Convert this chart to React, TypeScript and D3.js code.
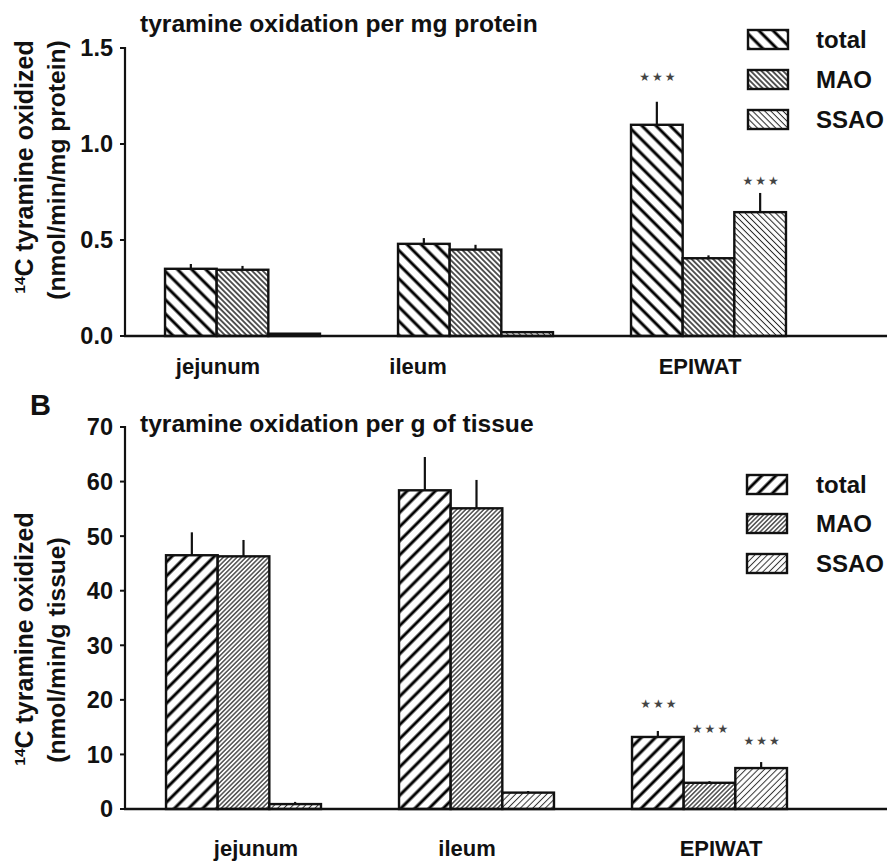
import React from 'react';
import * as d3 from 'd3';

// ---------- data ----------
const categories = ['jejunum', 'ileum', 'EPIWAT'];
const seriesNames = ['total', 'MAO', 'SSAO'];

// Panel A: per mg protein
const proteinTotal = [0.35, 0.48, 1.10];
const proteinTotalErr = [0.025, 0.03, 0.12];
const proteinMAO = [0.345, 0.45, 0.405];
const proteinMAOErr = [0.02, 0.025, 0.015];
const proteinSSAO = [0.012, 0.02, 0.645];
const proteinSSAOErr = [0, 0, 0.10];
const proteinTicks = [0, 0.5, 1.0, 1.5];
// significance markers: category index, series index, level (data units)
const proteinStars = [
  { cat: 2, s: 0, level: 1.354 },
  { cat: 2, s: 2, level: 0.81 },
];

// Panel B: per g of tissue
const tissueTotal = [46.5, 58.4, 13.2];
const tissueTotalErr = [4.2, 6.1, 1.1];
const tissueMAO = [46.3, 55.1, 4.8];
const tissueMAOErr = [3.0, 5.2, 0.3];
const tissueSSAO = [0.9, 3.0, 7.5];
const tissueSSAOErr = [0.4, 0.3, 1.1];
const tissueTicks = [0, 10, 20, 30, 40, 50, 60, 70];
const tissueStars = [
  { cat: 2, s: 0, level: 19.4 },
  { cat: 2, s: 1, level: 14.8 },
  { cat: 2, s: 2, level: 12.5 },
];

const FONT = "'Liberation Sans', Arial, Helvetica, sans-serif";

type PanelProps = {
  values: number[][];
  errors: number[][];
  stars: { cat: number; s: number; level: number }[];
  ticks: number[];
  fmt: (v: number) => string;
  domain: [number, number];
  yRange: [number, number];
  xRange: [number, number];
  patterns: string[];
  title: string;
  titleY: number;
  yLabel2: string;
  yLabelCenters: [number, number];
  legendX: number;
  legendYs: number[];
  catLabelY: number;
  catLabelX: number[];
};

function Panel(p: PanelProps) {
  const y = d3.scaleLinear().domain(p.domain).range(p.yRange);
  const x0 = d3
    .scaleBand<string>()
    .domain(categories)
    .range(p.xRange)
    .paddingInner(0.335)
    .paddingOuter(0.1675);
  const x1 = d3.scaleBand<string>().domain(seriesNames).range([0, x0.bandwidth()]).padding(0);
  const axisX = 125;
  const base = y(0);
  return (
    <g>
      <text x={140} y={p.titleY} fontSize={24.6} fontWeight="bold" fill="#111">
        {p.title}
      </text>
      {/* bars */}
      {categories.map((c, ci) => (
        <g key={c}>
          {seriesNames.map((s, si) => {
            const v = p.values[si][ci];
            const e = p.errors[si][ci];
            const bx = (x0(c) as number) + (x1(s) as number);
            const bw = x1.bandwidth();
            const cx = bx + bw / 2;
            return (
              <g key={s}>
                {e > 0 && (
                  <line x1={cx} x2={cx} y1={y(v)} y2={y(v + e)} stroke="#111" strokeWidth={2.2} />
                )}
                <rect
                  x={bx}
                  y={y(v)}
                  width={bw}
                  height={base - y(v)}
                  fill={`url(#${p.patterns[si]})`}
                  stroke="#111"
                  strokeWidth={2.4}
                />
              </g>
            );
          })}
        </g>
      ))}
      {/* stars */}
      {p.stars.map((st, i) => {
        const c = categories[st.cat];
        const s = seriesNames[st.s];
        const cx = (x0(c) as number) + (x1(s) as number) + x1.bandwidth() / 2;
        return (
          <text
            key={i}
            x={cx + 1.5}
            y={y(st.level) + 4.5}
            textAnchor="middle"
            fontSize={12}
            letterSpacing={2}
            fill="#444"
            fontFamily="'DejaVu Sans', sans-serif"
          >
            ★★★
          </text>
        );
      })}
      {/* axes */}
      <line x1={axisX} x2={axisX} y1={base + 1} y2={y(p.domain[1]) - 1} stroke="#111" strokeWidth={2.2} />
      <line x1={axisX - 1} x2={887} y1={base} y2={base} stroke="#111" strokeWidth={2.4} />
      {p.ticks.map((t) => (
        <g key={t}>
          <line x1={axisX - 5} x2={axisX} y1={y(t)} y2={y(t)} stroke="#111" strokeWidth={2} />
          <text
            x={113}
            y={y(t)}
            dy="0.36em"
            textAnchor="end"
            fontSize={23.5}
            fontWeight="bold"
            fill="#111"
          >
            {p.fmt(t)}
          </text>
        </g>
      ))}
      {/* category labels */}
      {categories.map((c, i) => (
        <text
          key={c}
          x={p.catLabelX[i]}
          y={p.catLabelY}
          textAnchor="middle"
          fontSize={22}
          fontWeight="bold"
          fill="#111"
        >
          {c}
        </text>
      ))}
      {/* y label */}
      <text
        transform={`translate(33,${p.yLabelCenters[0]}) rotate(-90)`}
        textAnchor="middle"
        fontSize={25}
        fontWeight="bold"
        fill="#111"
      >
        <tspan fontSize={15.5} dy={-8}>
          14
        </tspan>
        <tspan dy={8}>C tyramine oxidized</tspan>
      </text>
      <text
        transform={`translate(65,${p.yLabelCenters[1]}) rotate(-90)`}
        textAnchor="middle"
        fontSize={24.6}
        fontWeight="bold"
        fill="#111"
      >
        {p.yLabel2}
      </text>
      {/* legend */}
      {seriesNames.map((s, i) => (
        <g key={s}>
          <rect
            x={p.legendX}
            y={p.legendYs[i]}
            width={40}
            height={19}
            fill={`url(#${p.patterns[i]})`}
            stroke="#111"
            strokeWidth={2.4}
          />
          <text
            x={816}
            y={p.legendYs[i] + 9.5}
            dy="0.36em"
            fontSize={24}
            fontWeight="bold"
            fill="#111"
          >
            {s}
          </text>
        </g>
      ))}
    </g>
  );
}

function Hatch({ id, size, sw, angle, color }: { id: string; size: number; sw: number; angle: number; color: string }) {
  return (
    <pattern id={id} patternUnits="userSpaceOnUse" width={size} height={size} patternTransform={`rotate(${angle})`}>
      <rect width={size} height={size} fill="white" />
      <line x1={size / 2} x2={size / 2} y1={-1} y2={size + 1} stroke={color} strokeWidth={sw} />
    </pattern>
  );
}

export default function App() {
  return (
    <svg
      width={887}
      height={861}
      style={{ position: 'absolute', left: 0, top: 0, background: 'white' }}
      fontFamily={FONT}
    >
      <defs>
        <Hatch id="aTotal" size={10} sw={3} angle={-45} color="#000" />
        <Hatch id="aMAO" size={3.8} sw={1.4} angle={-45} color="#111" />
        <Hatch id="aSSAO" size={4.3} sw={1.0} angle={-45} color="#222" />
        <Hatch id="bTotal" size={10} sw={3} angle={45} color="#000" />
        <Hatch id="bMAO" size={3.2} sw={1.2} angle={45} color="#222" />
        <Hatch id="bSSAO" size={4.4} sw={1.0} angle={45} color="#333" />
      </defs>
      <rect width={887} height={861} fill="white" />
      <Panel
        values={[proteinTotal, proteinMAO, proteinSSAO]}
        errors={[proteinTotalErr, proteinMAOErr, proteinSSAOErr]}
        stars={proteinStars}
        ticks={proteinTicks}
        fmt={d3.format('.1f')}
        domain={[0, 1.5]}
        yRange={[336, 48]}
        xRange={[126, 825]}
        patterns={['aTotal', 'aMAO', 'aSSAO']}
        title="tyramine oxidation per mg protein"
        titleY={32}
        yLabel2="(nmol/min/mg protein)"
        yLabelCenters={[167, 170]}
        legendX={748}
        legendYs={[30, 70, 110]}
        catLabelY={374}
        catLabelX={[218, 418, 700]}
      />
      <text x={30} y={415} fontSize={29} fontWeight="bold" fill="#111">
        B
      </text>
      <Panel
        values={[tissueTotal, tissueMAO, tissueSSAO]}
        errors={[tissueTotalErr, tissueMAOErr, tissueSSAOErr]}
        stars={tissueStars}
        ticks={tissueTicks}
        fmt={d3.format('d')}
        domain={[0, 70]}
        yRange={[809, 427]}
        xRange={[127, 826]}
        patterns={['bTotal', 'bMAO', 'bSSAO']}
        title="tyramine oxidation per g of tissue"
        titleY={432}
        yLabel2="(nmol/min/g tissue)"
        yLabelCenters={[639, 650]}
        legendX={747}
        legendYs={[475, 514, 554]}
        catLabelY={856}
        catLabelX={[256, 467, 721]}
      />
    </svg>
  );
}
